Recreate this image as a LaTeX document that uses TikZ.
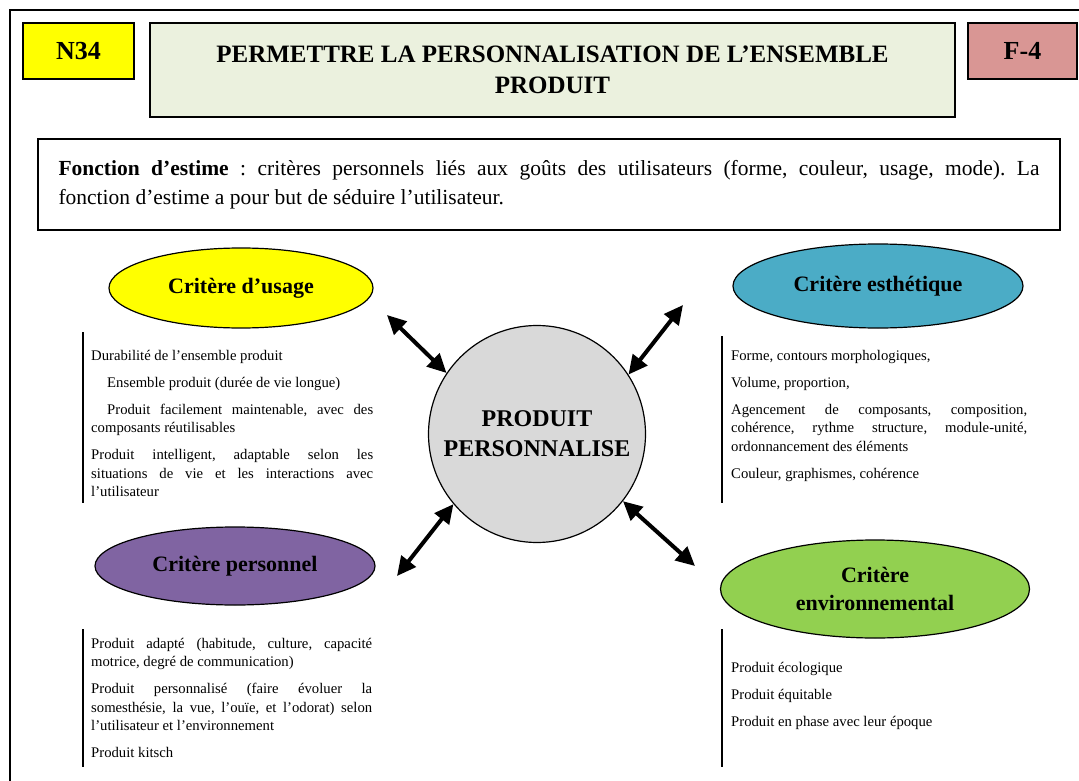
\documentclass[tikz,border=0pt]{standalone}
\usepackage{fontspec}
\setmainfont{Liberation Serif}
\usetikzlibrary{arrows.meta,positioning,shapes.geometric}
\definecolor{Yellow}{HTML}{FFFF00}
\definecolor{Sage}{HTML}{EBF1DE}
\definecolor{Rose}{HTML}{D99694}
\definecolor{Grey}{HTML}{D9D9D9}
\definecolor{Teal}{HTML}{4BACC6}
\definecolor{Violet}{HTML}{8064A2}
\definecolor{Lime}{HTML}{92D050}
\frenchspacing

\begin{document}
\begin{tikzpicture}[x=1pt,y=-1pt,
    tag/.style={draw,line width=1.2pt,inner sep=0pt,font=\fontsize{26}{30}\selectfont\bfseries},
    crit/.style={ellipse,draw,line width=1.2pt,inner sep=0pt,align=center,
      font=\fontsize{22}{28}\selectfont\bfseries},
    plain/.style={execute at begin node={\hyphenpenalty=10000\exhyphenpenalty=10000}},
    liste/.style={plain,anchor=north west,inner sep=0pt,align=justify,
      font=\fontsize{14.7}{18.5}\selectfont,
      execute at begin node={\setlength{\parskip}{8.5pt}\setlength{\parindent}{0pt}}},
    bar/.style={line width=2.5pt},
    link/.style={line width=4pt,{Triangle[length=19pt,width=18pt]}-{Triangle[length=19pt,width=18pt]}}
  ]
    \useasboundingbox (0,0) rectangle (1079,781);
    \clip (0,0) rectangle (1079,781);
    \draw[line width=1.3pt] (10,10) rectangle (1090,800);

    % header
    \node[tag,fill=Yellow,minimum width=111pt,minimum height=56pt] (num) at (78.5,51) {N34};
    \node[tag,fill=Sage,minimum width=805pt,minimum height=94pt,align=center,
      font=\fontsize{25}{31}\selectfont\bfseries] (titre) at (552.5,70)
      {PERMETTRE LA PERSONNALISATION DE L’ENSEMBLE\\PRODUIT};
    \node[tag,fill=Rose,minimum width=109pt,minimum height=56pt] (fiche) at (1022.5,51) {F-4};

    \node[plain,draw,line width=1.2pt,minimum width=1022pt,minimum height=91pt,text width=981pt,
      align=justify,font=\fontsize{21.5}{29}\selectfont] (intro) at (549,184.5)
      {\textbf{Fonction d’estime} : critères personnels liés aux goûts des utilisateurs (forme, couleur, usage, mode). La\linebreak fonction d’estime a pour but de séduire l’utilisateur.};

    % centre and criteria
    \node[circle,draw,line width=1.2pt,fill=Grey,minimum size=217pt,inner sep=0pt,align=center,
      font=\fontsize{24}{30}\selectfont\bfseries] (centre) at (537,434) {PRODUIT\\PERSONNALISE};

    \node[crit,fill=Yellow,minimum width=264pt,minimum height=80pt] (usage) at (241,288) {Critère d’usage};
    \node[crit,fill=Teal,minimum width=290pt,minimum height=84pt] (esth) at (878,286) {Critère esthétique};
    \node[crit,fill=Violet,minimum width=280pt,minimum height=78pt] (perso) at (235,566) {Critère personnel};
    \node[crit,fill=Lime,minimum width=309pt,minimum height=98pt] (envir) at (875,589) {Critère\\environnemental};

    \coordinate (nw) at (387,315);
    \coordinate (ne) at (683,305);
    \coordinate (sw) at (397,576);
    \coordinate (se) at (695,566);
    \draw[link] (nw) -- (centre.146);
    \draw[link] (ne) -- (centre.33);
    \draw[link] (sw) -- (centre.220);
    \draw[link] (se) -- (centre.322);

    % lists
    \draw[bar] (83,332) -- (83,503);
    \node[liste,text width=282pt] (usagetxt) at (91,350)
      {Durabilité de l’ensemble produit\par
       \hspace*{16pt}Ensemble produit (durée de vie longue)\par
       \hspace*{16pt}Produit facilement maintenable, avec des composants réutilisables\par
       Produit intelligent, adaptable selon les\linebreak situations de vie et les interactions avec\linebreak l’utilisateur};

    \draw[bar] (722,336) -- (722,503);
    \node[liste,text width=296pt] (esthtxt) at (731,350)
      {Forme, contours morphologiques,\par
       Volume, proportion,\par
       Agencement de composants, composition,\linebreak cohérence, rythme structure, module-unité,\linebreak ordonnancement des éléments\par
       Couleur, graphismes, cohérence};

    \draw[bar] (83,629) -- (83,767);
    \node[liste,text width=281pt] (persotxt) at (91,638)
      {Produit adapté (habitude, culture, capacité\linebreak motrice, degré de communication)\par
       Produit personnalisé (faire évoluer la\linebreak somesthésie, la vue, l’ouïe, et l’odorat) selon\linebreak l’utilisateur et l’environnement\par
       Produit kitsch};

    \draw[bar] (722,629) -- (722,767);
    \node[liste,text width=296pt] (envirtxt) at (731,662)
      {Produit écologique\par
       Produit équitable\par
       Produit en phase avec leur époque};
  \end{tikzpicture}
\end{document}
